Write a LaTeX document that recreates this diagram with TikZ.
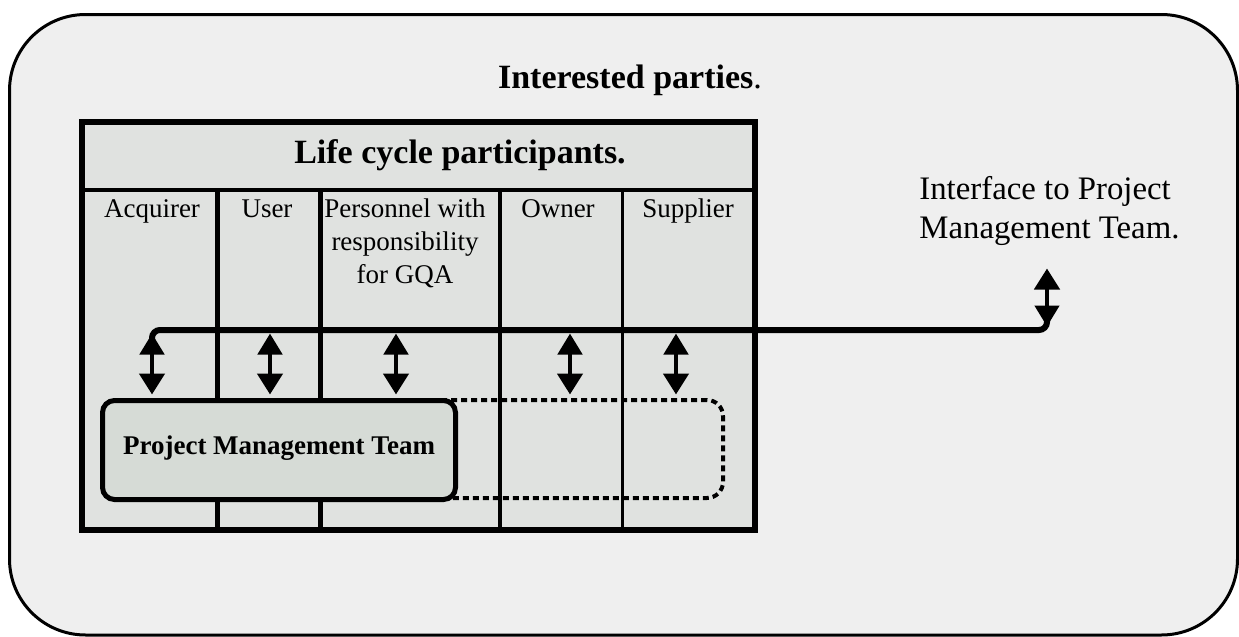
\documentclass[tikz,border=0pt]{standalone}
\usepackage{fontspec}
\setmainfont{Liberation Serif}
\usetikzlibrary{arrows.meta}

\definecolor{panelgray}{HTML}{EFEFEF}
\definecolor{tablegray}{HTML}{E0E2E0}
\definecolor{teamgray}{HTML}{D6DBD6}

\tikzstyle{panel} = [draw=black, line width=1.5pt, fill=panelgray, rounded corners=38pt]
\tikzstyle{tableframe} = [draw=black, line width=3pt, fill=tablegray]
\tikzstyle{gridline} = [line width=1.7pt]
\tikzstyle{thickgrid} = [line width=2.5pt]
\tikzstyle{partytitle} = [font=\bfseries\fontsize{17}{20}\selectfont, inner sep=0pt, anchor=base]
\tikzstyle{tabletitle} = [font=\bfseries\fontsize{17}{20}\selectfont, inner sep=0pt, anchor=base]
\tikzstyle{collabel} = [font=\fontsize{13.5}{16.5}\selectfont, inner sep=0pt, anchor=base, align=center]
\tikzstyle{ifacelabel} = [font=\fontsize{16.4}{19.5}\selectfont, inner sep=0pt, anchor=base west, align=left]
\tikzstyle{teambox} = [rectangle, rounded corners=6pt, draw=black, line width=2.5pt, fill=teamgray, minimum width=176.5pt, minimum height=49.5pt, font=\bfseries\fontsize{13.5}{16}\selectfont, text height=9.5pt, text depth=5.5pt]
\tikzstyle{spanbox} = [rectangle, rounded corners=8pt, draw=black, line width=2pt, dash pattern=on 3pt off 2pt, minimum width=310.5pt, minimum height=49pt]
\tikzstyle{bus} = [line width=3pt, rounded corners=4pt]
\tikzstyle{arrow} = [line width=2.3pt, shorten <=1.75pt, shorten >=1.75pt, {Triangle[length=10.5pt,width=12pt]}-{Triangle[length=10.5pt,width=12.5pt]}]

\begin{document}
\begin{tikzpicture}[x=0.5pt, y=-0.5pt]
\useasboundingbox (0,0) rectangle (1239,637);

% Interested parties
\draw[panel] (9.5,14.5) rectangle (1237.5,635);
\node (parties) [partytitle] at (630,88) {Interested parties\textmd{.}};

% Life cycle participants table
\draw[tableframe] (82,121.5) rectangle (754.5,529.5);
\draw[gridline] (82,190) -- (754.5,190);
\draw[thickgrid] (217.5,190) -- (217.5,529.5);
\draw[thickgrid] (320,190) -- (320,529.5);
\draw[gridline] (500,190) -- (500,529.5);
\draw[gridline] (622.5,190) -- (622.5,529.5);
\node (lcp) [tabletitle] at (460,163) {Life cycle participants.};

% Participants (base = last line)
\node (acq) [collabel] at (152,217) {Acquirer};
\node (user) [collabel] at (267,217) {User};
\node (gqa) [collabel] at (405,283) {Personnel with\\responsibility\\for GQA};
\node (owner) [collabel] at (558,217) {Owner};
\node (supp) [collabel] at (688,217) {Supplier};

% Project Management Team
\node (span) [spanbox] at (412.5,449) {};
\node (pmt) [teambox] at (279,450) {Project Management Team};

% Interface
\node (iface) [ifacelabel] at (919,238) {Interface to Project\\Management Team.};
\coordinate (ifaceTip) at (1047,265);

% Bus
\coordinate (busL) at (152,330);
\coordinate (bUser) at (270,330);
\coordinate (bGqa) at (396,330);
\coordinate (bOwner) at (570,330);
\coordinate (bSupp) at (676,330);
\coordinate (busR) at (1047,330);
\draw[bus] ([yshift=-7pt]busL) -- (busL) -- (busR) -- ([yshift=7pt]busR);

% Arrows
\draw[arrow] (busL) -- (busL |- pmt.north);
\draw[arrow] (bUser) -- (bUser |- pmt.north);
\draw[arrow] (bGqa) -- (bGqa |- pmt.north);
\draw[arrow] (bOwner) -- (bOwner |- span.north);
\draw[arrow] (bSupp) -- (bSupp |- span.north);
\draw[arrow] (busR) -- (ifaceTip);

\end{tikzpicture}
\end{document}
